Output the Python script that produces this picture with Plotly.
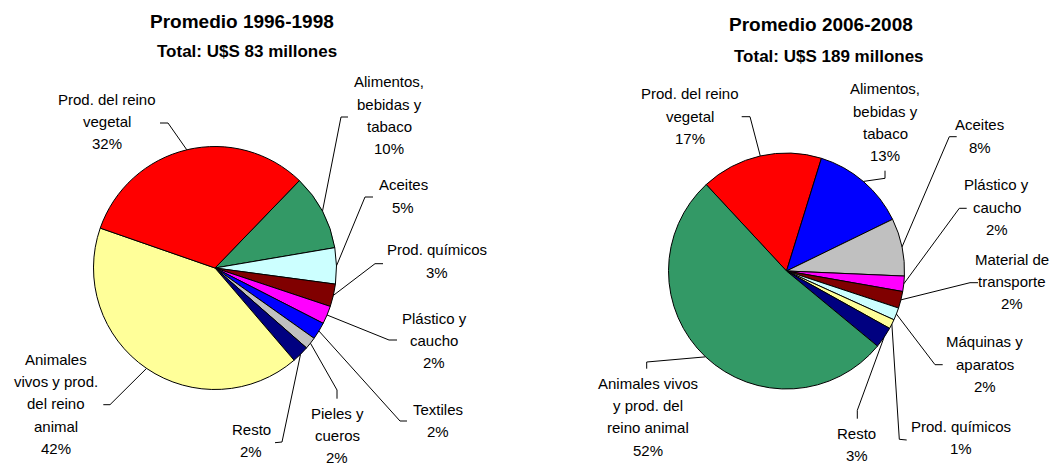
import math
import plotly.graph_objects as go

W, H = 1060, 464
FONT = "Liberation Sans, Arial, sans-serif"

# ---------------- data ----------------
titles = ["Promedio 1996-1998", "Promedio 2006-2008"]
subtitles = ["Total: U$S 83 millones", "Total: U$S 189 millones"]

cats_a = ["Alimentos, bebidas y tabaco", "Aceites", "Prod. químicos", "Plástico y caucho",
          "Textiles", "Pieles y cueros", "Resto",
          "Animales vivos y prod. del reino animal", "Prod. del reino vegetal"]
vals_a = [10.1, 4.8, 3.0, 2.4, 2.3, 1.6, 2.3, 41.6, 31.9]
lines_a = [["Alimentos,", "bebidas y", "tabaco"], ["Aceites"], ["Prod. químicos"],
           ["Plástico y", "caucho"], ["Textiles"], ["Pieles y", "cueros"], ["Resto"],
           ["Animales", "vivos y prod.", "del reino", "animal"], ["Prod. del reino", "vegetal"]]
colors_a = ["#339966", "#CCFFFF", "#800000", "#FF00FF", "#0000FF", "#C0C0C0", "#000080",
            "#FFFF99", "#FF0000"]

cats_b = ["Prod. del reino vegetal", "Alimentos, bebidas y tabaco", "Aceites", "Plástico y caucho",
          "Material de transporte", "Máquinas y aparatos", "Prod. químicos", "Resto",
          "Animales vivos y prod. del reino animal"]
vals_b = [16.7, 13.0, 7.9, 2.1, 2.3, 1.7, 1.3, 2.9, 52.1]
lines_b = [["Prod. del reino", "vegetal"], ["Alimentos,", "bebidas y", "tabaco"], ["Aceites"],
           ["Plástico y", "caucho"], ["Material de", "transporte"], ["Máquinas y", "aparatos"],
           ["Prod. químicos"], ["Resto"], ["Animales vivos", "y prod. del", "reino animal"]]
colors_b = ["#FF0000", "#0000FF", "#C0C0C0", "#FF00FF", "#800000", "#CCFFFF", "#FFFF99",
            "#000080", "#339966"]

# ---------------- layout (pixels) ----------------
pies = [
    dict(cx=215, cy=268, r=121.5, rot=44.0),
    dict(cx=786.5, cy=271, r=118, rot=-42.9),
]
title_pos = [dict(x=241.7, yb=28.3, sx=246.7, syb=57.3),
             dict(x=821.3, yb=30.7, sx=828.7, syb=62.3)]

# label layout: text centre x, first baseline y, leader path (elbow, tail)
lab_a = [
    dict(cx=389, by=87, path=[(341, 117), (348, 117)]),
    dict(cx=403, by=190, path=[(365, 197), (373, 197)]),
    dict(cx=437, by=255, path=[(375, 263.7), (383, 263.7)]),
    dict(cx=434, by=323.7, path=[(389, 340), (397, 340)]),
    dict(cx=438, by=414.7, path=[(400, 421), (407, 421)]),
    dict(cx=337, by=418.7, path=[(337, 390), (337, 398.7)]),
    dict(cx=251, by=434.7, path=[(282, 442), (275, 442.7)]),
    dict(cx=56, by=364.7, path=[(110, 404.7), (103.3, 404.7)]),
    dict(cx=107, by=104.3, path=[(168, 123), (160, 123)]),
]
lab_b = [
    dict(cx=689.7, by=99, path=[(750, 116.7), (741.7, 116.7)]),
    dict(cx=885, by=94, path=[(885, 178.3), (885, 170.7)]),
    dict(cx=979.7, by=130, path=[(949.3, 136.7), (956.7, 136.7)]),
    dict(cx=996.7, by=190, path=[(959.3, 208.3), (966.7, 208.3)]),
    dict(cx=1012, by=264.3, path=[(970, 282.7), (978, 282.7)]),
    dict(cx=984.5, by=347, path=[(935, 364.7), (942.7, 364.7)]),
    dict(cx=961.3, by=431.3, path=[(899.3, 439.3), (906.7, 440)]),
    dict(cx=856.7, by=438.7, path=[(857.3, 410.3), (857.3, 418.7)]),
    dict(cx=647.5, by=388.7, path=[(646.7, 362), (646.7, 368.7)]),
]

LAB_FS = 15
LINE_GAP = 22.2

fig = go.Figure()

# hidden pixel-space axes for annotations and leader lines
fig.add_trace(go.Scatter(x=[0, W], y=[0, H], mode="markers", marker=dict(opacity=0),
                         hoverinfo="skip", showlegend=False))

annotations = []
shapes = []


def add_text(x, baseline, text, size, bold=False):
    annotations.append(dict(
        x=x, y=baseline - 0.3465 * size, xref="x", yref="y",
        text=f"<b>{text}</b>" if bold else text, showarrow=False,
        xanchor="center", yanchor="middle",
        font=dict(family=FONT, size=size, color="black")))


for k, (cats, vals, lines, colors, labs) in enumerate([
        (cats_a, vals_a, lines_a, colors_a, lab_a),
        (cats_b, vals_b, lines_b, colors_b, lab_b)]):
    p = pies[k]
    fig.add_trace(go.Pie(
        labels=cats, values=vals, sort=False, direction="clockwise", rotation=p["rot"],
        marker=dict(colors=colors, line=dict(color="black", width=1)),
        textinfo="none", hoverinfo="label+percent", showlegend=False,
        domain=dict(x=[(p["cx"] - p["r"]) / W, (p["cx"] + p["r"]) / W],
                    y=[1 - (p["cy"] + p["r"]) / H, 1 - (p["cy"] - p["r"]) / H])))

    total = sum(vals)
    cum = 0.0
    for i, v in enumerate(vals):
        mid = math.radians(p["rot"] + (cum + v / 2) / total * 360)
        cum += v
        ex = p["cx"] + p["r"] * math.sin(mid)
        ey = p["cy"] - p["r"] * math.cos(mid)
        lab = labs[i]
        pts = [(ex, ey)] + lab["path"]
        d = "M " + " L ".join(f"{x:.2f},{y:.2f}" for x, y in pts)
        shapes.append(dict(type="path", path=d, xref="x", yref="y",
                           line=dict(color="black", width=1)))
        txt = lines[i] + [f"{round(v / total * 100)}%"]
        for j, t in enumerate(txt):
            add_text(lab["cx"], lab["by"] + j * LINE_GAP, t, LAB_FS)

    tp = title_pos[k]
    add_text(tp["x"], tp["yb"], titles[k], 19, bold=True)
    add_text(tp["sx"], tp["syb"], subtitles[k], 17, bold=True)

fig.update_layout(
    width=W, height=H, autosize=False,
    margin=dict(l=0, r=0, t=0, b=0, pad=0),
    paper_bgcolor="white", plot_bgcolor="white",
    xaxis=dict(range=[0, W], visible=False, fixedrange=True, domain=[0, 1]),
    yaxis=dict(range=[H, 0], visible=False, fixedrange=True, domain=[0, 1]),
    annotations=annotations, shapes=shapes,
    font=dict(family=FONT),
)

fig.write_html("out.html", config={"displayModeBar": False},
               post_script="document.body.style.margin='0';document.body.style.overflow='hidden';")
